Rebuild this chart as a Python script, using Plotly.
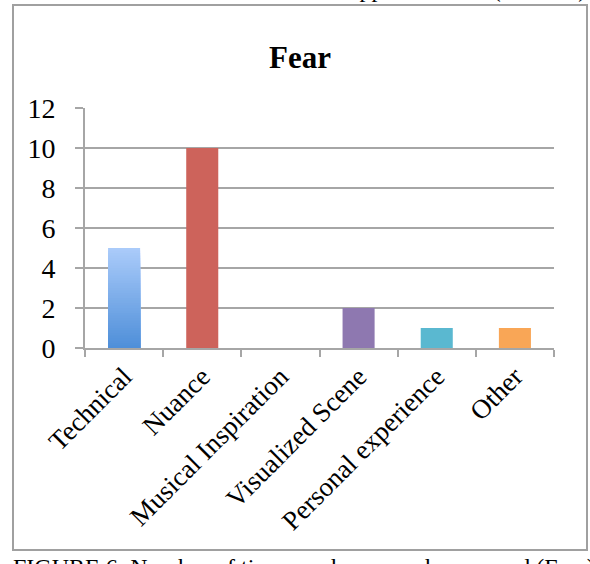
import plotly.graph_objects as go

# ---- data ----
categories = ["Technical", "Nuance", "Musical Inspiration", "Visualized Scene",
              "Personal experience", "Other"]
counts = [5, 10, 0, 2, 1, 1]
bar_colors = ["#4F8FD9", "#CD635B", "#9BBB59", "#8E78B0", "#5AB8D0", "#F9A656"]
y_ticks = [0, 2, 4, 6, 8, 10, 12]
chart_title = "Fear"
caption = "FIGURE 6: Number of times each approach was used (Fear)"
prev_caption = "FIGURE 5: Number of times each approach used (Sadness)"

# gradient for first bar (top -> bottom)
grad_top = (0xAA, 0xCB, 0xFA)
grad_bot = (0x4F, 0x8F, 0xD9)

W, H = 590, 564
L, R, T, B = 85, 36, 108, 216
pw, ph = W - L - R, H - T - B


def px_x(px):
    return (px - L) / pw


def px_y(py):
    return (H - B - py) / ph


FONT = "Liberation Serif"
GRID = "#A6A6A6"

fig = go.Figure()

# gradient bar (first category) drawn as nested bars from tallest to shortest
n = 40
g_y, g_c = [], []
for i in range(n):
    frac = 1 - i / n
    t = i / (n - 1)
    c = tuple(round(grad_top[k] + (grad_bot[k] - grad_top[k]) * t) for k in range(3))
    g_y.append(counts[0] * frac)
    g_c.append("rgb(%d,%d,%d)" % c)
fig.add_trace(go.Bar(x=[categories[0]] * n, y=g_y,
                     marker=dict(color=g_c, line=dict(width=0)),
                     showlegend=False, hoverinfo="skip"))

fig.add_trace(go.Bar(x=categories[1:], y=counts[1:],
                     marker=dict(color=bar_colors[1:], line=dict(width=0)),
                     showlegend=False))

fig.update_layout(
    width=W, height=H,
    margin=dict(l=L, r=R, t=T, b=B),
    paper_bgcolor="white", plot_bgcolor="white",
    barmode="overlay", bargap=0.59,
    xaxis=dict(type="category", categoryorder="array", categoryarray=categories,
               range=[-0.5, 5.5], tickson="boundaries", ticks="outside",
               ticklen=7, tickwidth=2, tickcolor=GRID, showline=True,
               linecolor=GRID, linewidth=2, tickangle=-45, showgrid=False,
               tickfont=dict(family=FONT, size=27, color="black")),
    yaxis=dict(range=[0, 12], tickvals=y_ticks, showgrid=True, gridcolor=GRID,
               gridwidth=2, ticks="outside", ticklen=8, tickwidth=2,
               tickcolor=GRID, showline=True, linecolor=GRID, linewidth=2,
               zeroline=False, ticklabelstandoff=14,
               tickfont=dict(family=FONT, size=28, color="black")),
    font=dict(family=FONT, color="black"),
)

fig.add_annotation(text="<b>%s</b>" % chart_title, x=px_x(300), y=px_y(57),
                   xref="paper", yref="paper", xanchor="center", yanchor="middle",
                   showarrow=False, font=dict(family=FONT, size=31, color="black"))

fig.add_annotation(text=caption, x=px_x(11), y=px_y(552), xref="paper", yref="paper",
                   xanchor="left", yanchor="top", showarrow=False,
                   font=dict(family=FONT, size=24, color="black"))

fig.add_annotation(text=prev_caption, x=px_x(11), y=px_y(4), xref="paper", yref="paper",
                   xanchor="left", yanchor="bottom", showarrow=False,
                   font=dict(family=FONT, size=24, color="black"))

fig.add_shape(type="rect", xref="paper", yref="paper",
              x0=px_x(13), x1=px_x(587), y0=px_y(550), y1=px_y(5),
              line=dict(color="#A0A0A0", width=2), fillcolor="rgba(0,0,0,0)",
              layer="below")

fig.write_html("out.html")
